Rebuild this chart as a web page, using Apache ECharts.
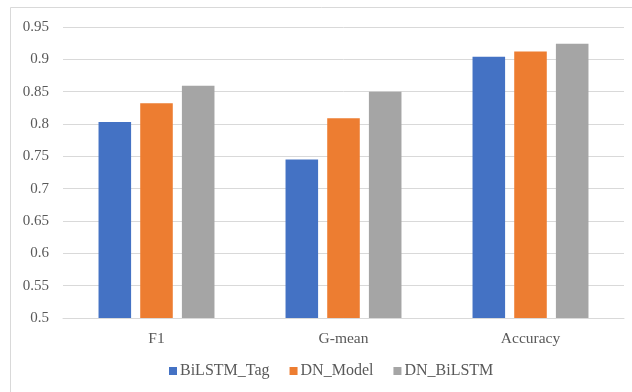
<!DOCTYPE html>
<html>
<head>
<meta charset="utf-8">
<script src="https://cdn.jsdelivr.net/npm/echarts@6/dist/echarts.min.js"></script>
<style>
  html, body { margin: 0; padding: 0; background: #fff; }
  #chart { width: 632px; height: 392px; }
</style>
</head>
<body>
<div id="chart"></div>
<script>
// Metric categories and per-model scores
const categories = ['F1', 'G-mean', 'Accuracy'];
const seriesNames = ['BiLSTM_Tag', 'DN_Model', 'DN_BiLSTM'];
const bilstmTag = [0.803, 0.745, 0.904];
const dnModel = [0.832, 0.809, 0.912];
const dnBilstm = [0.859, 0.850, 0.924];
const colors = ['#4472C4', '#ED7D31', '#A5A5A5'];

const fontFamily = '"Liberation Serif", "Times New Roman", serif';
const textColor = '#595959';

const chart = echarts.init(document.getElementById('chart'), null, { renderer: 'canvas' });

const values = [bilstmTag, dnModel, dnBilstm];

chart.setOption({
  animation: false,
  backgroundColor: '#fff',
  graphic: [{
    type: 'rect',
    shape: { x: 10.5, y: 7.5, width: 640, height: 400 },
    style: { fill: 'none', stroke: '#d9d9d9', lineWidth: 1 },
    silent: true
  }],
  grid: { left: 63, right: 8, top: 27, bottom: 74 },
  legend: {
    bottom: 8,
    left: 164,
    icon: 'rect',
    itemWidth: 8,
    itemHeight: 8,
    itemGap: 20,
    textStyle: { fontFamily, fontSize: 16, color: textColor, padding: [0, 0, 0, -2] },
    data: seriesNames
  },
  xAxis: {
    type: 'category',
    data: categories,
    axisLine: { show: true, lineStyle: { color: '#d9d9d9', width: 1 } },
    axisTick: { show: false },
    axisLabel: { fontFamily, fontSize: 15.5, color: textColor, margin: 13 }
  },
  yAxis: {
    type: 'value',
    min: 0.5,
    max: 0.95,
    interval: 0.05,
    axisLine: { show: false },
    axisTick: { show: false },
    splitLine: { lineStyle: { color: '#d9d9d9', width: 1 } },
    axisLabel: {
      fontFamily, fontSize: 15, color: textColor, margin: 14,
      formatter: v => String(parseFloat(v.toFixed(2)))
    }
  },
  series: seriesNames.map((name, i) => ({
    name,
    type: 'bar',
    data: values[i],
    barGap: '28%',
    barCategoryGap: '38%',
    itemStyle: { color: colors[i] }
  }))
});
</script>
</body>
</html>
